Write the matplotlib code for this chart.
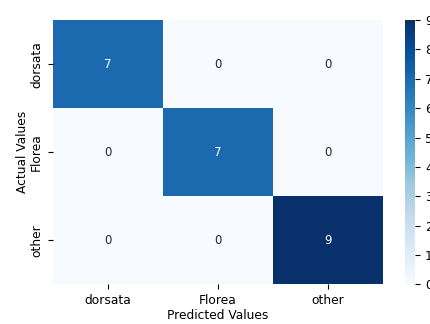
import matplotlib
matplotlib.use("Agg")
import matplotlib.pyplot as plt
import numpy as np
import seaborn as sns

labels = ["dorsata", "Florea", "other"]
cm = np.array([
    [7, 0, 0],
    [0, 7, 0],
    [0, 0, 9],
])

fig = plt.figure(figsize=(4.3, 3.24), dpi=100)
ax = fig.add_axes([0.123, 0.122, 0.768, 0.816])
cax = fig.add_axes([0.942, 0.122, 0.024, 0.816])

sns.heatmap(cm, annot=True, cmap="Blues", xticklabels=labels, yticklabels=labels,
            ax=ax, cbar_ax=cax, annot_kws={"size": 8.5})
ax.set_xlabel("Predicted Values", fontsize=8.8, labelpad=1)
ax.set_ylabel("Actual Values", fontsize=8.8, labelpad=1)
ax.tick_params(labelsize=8.8)
cax.tick_params(labelsize=8.8)

fig.savefig("out.png", dpi=100)
